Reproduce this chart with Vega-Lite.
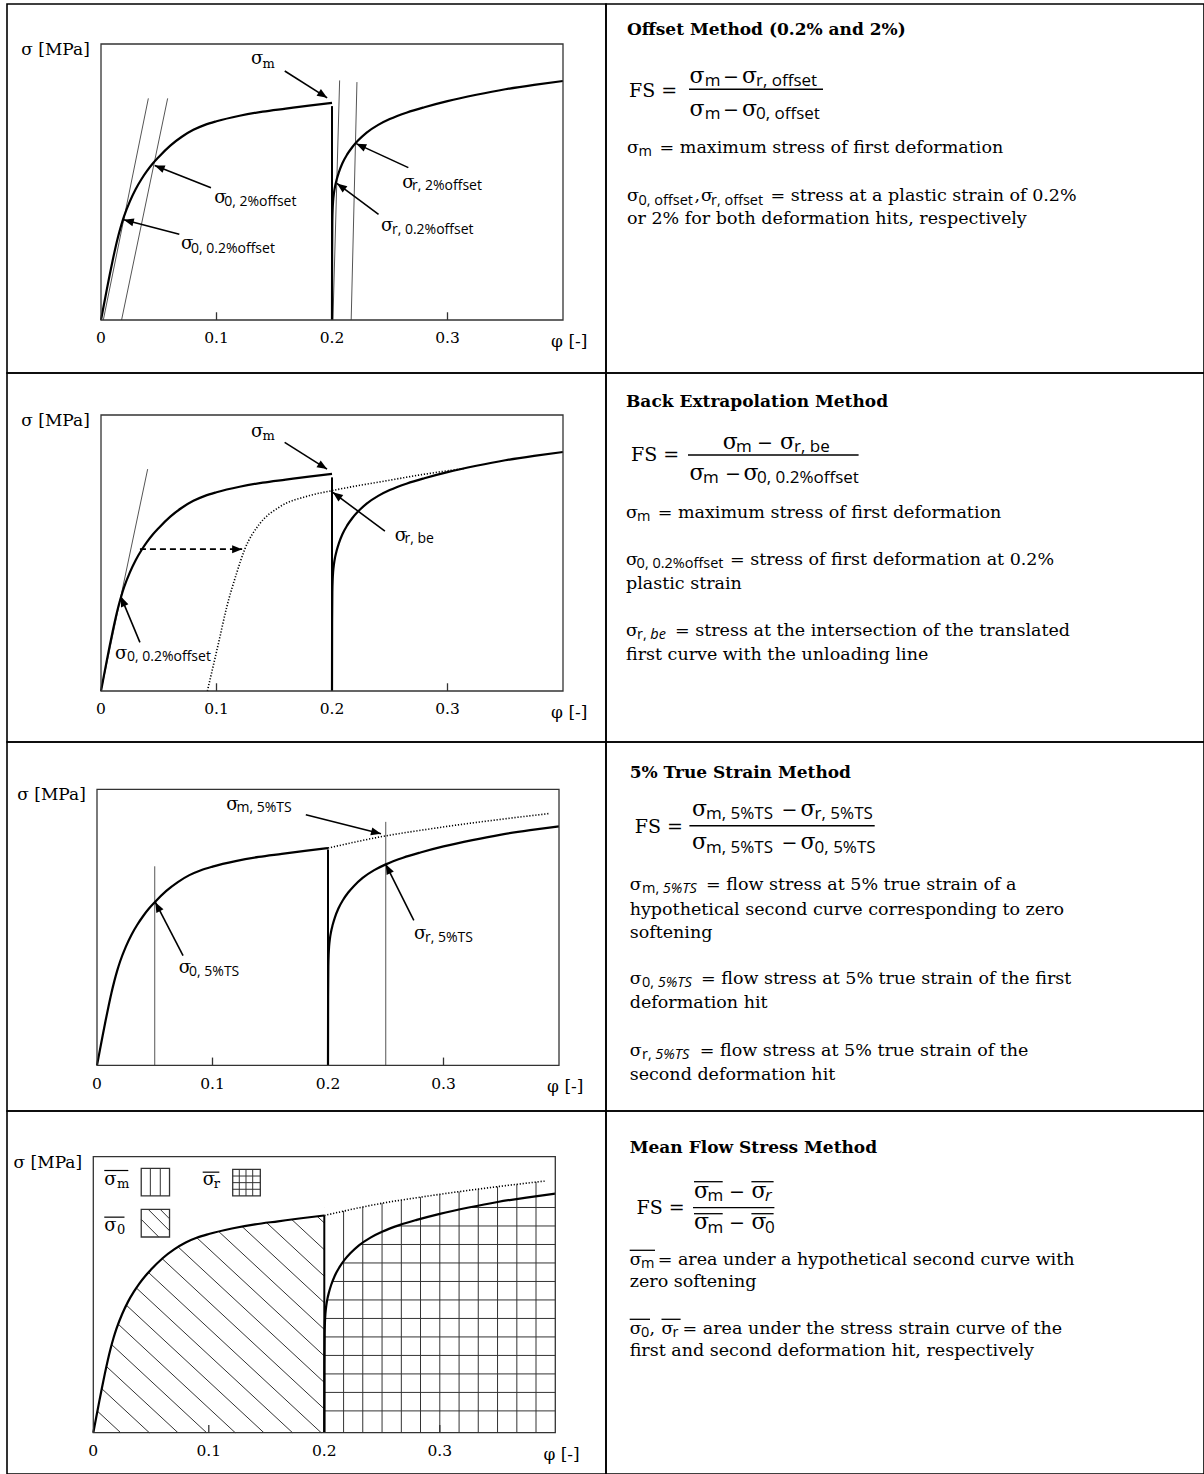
{
"$schema":"https://vega.github.io/schema/vega-lite/v6.json",
"background":"white",
"padding":{"left":6,"top":3,"right":1,"bottom":1},
"columns":2,
"spacing":0,
"bounds":"flush",
"config":{"view":{"stroke":"#000","strokeWidth":1.6},"mark":{"color":"#000"},"axis":{"disable":true}},
"datasets":{
"c1":[{"phi":0,"sig":0},{"phi":0.0025,"sig":5.5},{"phi":0.005,"sig":11},{"phi":0.0075,"sig":16.3},{"phi":0.01,"sig":21.4},{"phi":0.0125,"sig":26.2},{"phi":0.015,"sig":30.5},{"phi":0.0175,"sig":34.3},{"phi":0.02,"sig":37.6},{"phi":0.025,"sig":43},{"phi":0.03,"sig":47.4},{"phi":0.035,"sig":51},{"phi":0.04,"sig":54.1},{"phi":0.045,"sig":56.8},{"phi":0.05,"sig":59.1},{"phi":0.06,"sig":63.2},{"phi":0.07,"sig":66.4},{"phi":0.08,"sig":68.9},{"phi":0.09,"sig":70.7},{"phi":0.1,"sig":72.0},{"phi":0.12,"sig":74.0},{"phi":0.14,"sig":75.5},{"phi":0.16,"sig":76.6},{"phi":0.18,"sig":77.7},{"phi":0.2,"sig":78.7}],
"c2":[{"phi":0.2,"sig":0},{"phi":0.2001,"sig":25},{"phi":0.2003,"sig":36},{"phi":0.2006,"sig":40.5},{"phi":0.201,"sig":43.3},{"phi":0.2017,"sig":46},{"phi":0.2027,"sig":48.5},{"phi":0.204,"sig":50.8},{"phi":0.206,"sig":53.6},{"phi":0.209,"sig":56.8},{"phi":0.213,"sig":59.9},{"phi":0.2175,"sig":62.6},{"phi":0.2225,"sig":65},{"phi":0.23,"sig":67.9},{"phi":0.24,"sig":70.7},{"phi":0.25,"sig":72.8},{"phi":0.265,"sig":75.2},{"phi":0.28,"sig":77.1},{"phi":0.3,"sig":79.3},{"phi":0.325,"sig":81.6},{"phi":0.35,"sig":83.6},{"phi":0.375,"sig":85.2},{"phi":0.4,"sig":86.6}],
"dot2":[{"phi":0.0921,"sig":0},{"phi":0.1022,"sig":18.2},{"phi":0.1088,"sig":30.3},{"phi":0.1172,"sig":42.4},{"phi":0.1245,"sig":51.4},{"phi":0.1372,"sig":60.5},{"phi":0.1539,"sig":66.5},{"phi":0.1806,"sig":70.8},{"phi":0.2,"sig":72.6},{"phi":0.2475,"sig":76.2},{"phi":0.2809,"sig":78.6},{"phi":0.3143,"sig":80.6}],
"ext":[{"phi":0.2,"sig":78.7},{"phi":0.2509,"sig":83.2},{"phi":0.2843,"sig":85.4},{"phi":0.3177,"sig":87.4},{"phi":0.351,"sig":89.2},{"phi":0.3913,"sig":91.2}],
"thin":[{"p":"r1","phi":0.002,"sig":0,"phi2":0.041,"sig2":80.3},{"p":"r1","phi":0.0178,"sig":0,"phi2":0.0577,"sig2":80.3},{"p":"r1","phi":0.2008,"sig":0,"phi2":0.2066,"sig2":86.8},{"p":"r1","phi":0.2166,"sig":0,"phi2":0.2216,"sig2":86.2},{"p":"r2","phi":0,"sig":0,"phi2":0.0404,"sig2":80.4},{"p":"r3","phi":0.05,"sig":0,"phi2":0.05,"sig2":72.1},{"p":"r3","phi":0.25,"sig":0,"phi2":0.25,"sig2":88.2}],
"unl":[{"p":"r1","phi":0.2,"sig":77.5,"phi2":0.2,"sig2":0},{"p":"r2","phi":0.2,"sig":77.4,"phi2":0.2,"sig2":0},{"p":"r3","phi":0.2,"sig":78.2,"phi2":0.2,"sig2":0},{"p":"r4","phi":0.2,"sig":78.7,"phi2":0.2,"sig2":0}],
"arr":[{"p":"r1","id":"a1","phi":0.1591,"sig":90.2,"phi2":0.1958,"sig2":80.5},{"p":"r1","id":"a2","phi":0.0952,"sig":47.9,"phi2":0.0465,"sig2":56},{"p":"r1","id":"a3","phi":0.0678,"sig":31.1,"phi2":0.0197,"sig2":36.3},{"p":"r1","id":"a4","phi":0.2661,"sig":55.2,"phi2":0.221,"sig2":63.9},{"p":"r1","id":"a5","phi":0.2403,"sig":38.3,"phi2":0.2043,"sig2":49.5},{"p":"r2","id":"b1","phi":0.159,"sig":90.1,"phi2":0.1957,"sig2":80.4},{"p":"r2","id":"b2","phi":0.2458,"sig":57.9,"phi2":0.2007,"sig2":72.0},{"p":"r2","id":"b3","phi":0.0337,"sig":17.6,"phi2":0.0172,"sig2":34.2},{"p":"r2","id":"b4","phi":0.0337,"sig":51.4,"phi2":0.1222,"sig2":51.4},{"p":"r3","id":"c1","phi":0.1808,"sig":90.8,"phi2":0.2459,"sig2":83.9},{"p":"r3","id":"c2","phi":0.0745,"sig":39.7,"phi2":0.0505,"sig2":59.1},{"p":"r3","id":"c3","phi":0.2743,"sig":52.5,"phi2":0.25,"sig2":72.8}],
"clab":[{"p":"r1","k":"csig","phi":0.1299,"sig":92.6,"t":"σ"},{"p":"r1","k":"csubs","phi":0.1398,"sig":91.4,"t":"m"},{"p":"r1","k":"csig","phi":0.0981,"sig":42.5,"t":"σ"},{"p":"r1","k":"csub","phi":0.1067,"sig":41.3,"t":"0, 2%offset"},{"p":"r1","k":"csig","phi":0.0693,"sig":25.6,"t":"σ"},{"p":"r1","k":"csub","phi":0.0779,"sig":24.4,"t":"0, 0.2%offset"},{"p":"r1","k":"csig","phi":0.2608,"sig":47.9,"t":"σ"},{"p":"r1","k":"csub","phi":0.2693,"sig":47.0,"t":"r, 2%offset"},{"p":"r1","k":"csig","phi":0.2424,"sig":32.2,"t":"σ"},{"p":"r1","k":"csub","phi":0.2519,"sig":31.1,"t":"r, 0.2%offset"},
{"p":"r2","k":"csig","phi":0.1299,"sig":91.9,"t":"σ"},{"p":"r2","k":"csubs","phi":0.1398,"sig":90.8,"t":"m"},{"p":"r2","k":"csig","phi":0.2544,"sig":54.5,"t":"σ"},{"p":"r2","k":"csub","phi":0.2628,"sig":53.7,"t":"r, be"},{"p":"r2","k":"csig","phi":0.0121,"sig":11.6,"t":"σ"},{"p":"r2","k":"csub","phi":0.0225,"sig":10.8,"t":"0, 0.2%offset"},
{"p":"r3","k":"csig","phi":0.1118,"sig":92.6,"t":"σ"},{"p":"r3","k":"csub","phi":0.1208,"sig":91.6,"t":"m, 5%TS"},{"p":"r3","k":"csig","phi":0.0707,"sig":33.4,"t":"σ"},{"p":"r3","k":"csub","phi":0.0797,"sig":32.2,"t":"0, 5%TS"},{"p":"r3","k":"csig","phi":0.2745,"sig":45.8,"t":"σ"},{"p":"r3","k":"csub","phi":0.284,"sig":44.7,"t":"r, 5%TS"},
{"p":"r4","k":"csig","phi":0.0095,"sig":89.8,"t":"σ"},{"p":"r4","k":"csubs","phi":0.0205,"sig":88.8,"t":"m"},{"p":"r4","k":"csig","phi":0.0947,"sig":89.6,"t":"σ"},{"p":"r4","k":"csubs","phi":0.1042,"sig":88.6,"t":"r"},{"p":"r4","k":"csig","phi":0.0095,"sig":73.1,"t":"σ"},{"p":"r4","k":"csubs","phi":0.0205,"sig":72.1,"t":"0"}],
"ticks":[{"phi":0,"t":"0"},{"phi":0.1,"t":"0.1"},{"phi":0.2,"t":"0.2"},{"phi":0.3,"t":"0.3"}],
"axl":[{"phi":-0.069,"sig":96,"t":"σ [MPa]"},{"phi":0.3897,"sig":-9.8,"t":"φ [-]"}],
"hd":[{"phi":0,"sig":9.2,"phi2":0.0237,"sig2":0},{"phi":0,"sig":18.8,"phi2":0.0485,"sig2":0},{"phi":0,"sig":28.4,"phi2":0.0733,"sig2":0},{"phi":0,"sig":38.1,"phi2":0.0981,"sig2":0},{"phi":0,"sig":47.7,"phi2":0.1229,"sig2":0},{"phi":0,"sig":57.3,"phi2":0.1477,"sig2":0},{"phi":0,"sig":66.9,"phi2":0.1725,"sig2":0},{"phi":0,"sig":76.6,"phi2":0.1973,"sig2":0},{"phi":0,"sig":86.2,"phi2":0.2,"sig2":8.6},{"phi":0,"sig":95.8,"phi2":0.2,"sig2":18.2},{"phi":0.014,"sig":100,"phi2":0.2,"sig2":27.8},{"phi":0.0388,"sig":100,"phi2":0.2,"sig2":37.4},{"phi":0.0636,"sig":100,"phi2":0.2,"sig2":47.1},{"phi":0.0884,"sig":100,"phi2":0.2,"sig2":56.7},{"phi":0.1132,"sig":100,"phi2":0.2,"sig2":66.3},{"phi":0.138,"sig":100,"phi2":0.2,"sig2":76.0}],
"hh":[{"sig":7.9},{"sig":14.6},{"sig":21.3},{"sig":28},{"sig":34.7},{"sig":41.4},{"sig":48.1},{"sig":54.8},{"sig":61.5},{"sig":68.2},{"sig":74.9},{"sig":81.6}],
"hv":[{"phi":0.2167},{"phi":0.2333},{"phi":0.25},{"phi":0.2667},{"phi":0.2833},{"phi":0.3},{"phi":0.3167},{"phi":0.3333},{"phi":0.35},{"phi":0.3667},{"phi":0.3833}],
"lbox":[{"phi":0.0415,"phi2":0.066,"sig":85.8,"sig2":95.8},{"phi":0.1207,"phi2":0.1446,"sig":85.8,"sig2":95.4},{"phi":0.0415,"phi2":0.066,"sig":70.9,"sig2":80.9}],
"lln":[{"phi":0.0494,"sig":85.8,"phi2":0.0494,"sig2":95.8},{"phi":0.058,"sig":85.8,"phi2":0.058,"sig2":95.8},{"phi":0.1264,"sig":85.8,"phi2":0.1264,"sig2":95.4},{"phi":0.1322,"sig":85.8,"phi2":0.1322,"sig2":95.4},{"phi":0.138,"sig":85.8,"phi2":0.138,"sig2":95.4},{"phi":0.1207,"sig":93,"phi2":0.1446,"sig2":93},{"phi":0.1207,"sig":90.6,"phi2":0.1446,"sig2":90.6},{"phi":0.1207,"sig":88.2,"phi2":0.1446,"sig2":88.2},{"phi":0.0415,"sig":77.3,"phi2":0.0567,"sig2":70.9},{"phi":0.0476,"sig":80.9,"phi2":0.066,"sig2":73.2},{"phi":0.058,"sig":80.9,"phi2":0.066,"sig2":77.5}],
"lovl":[{"phi":0.0095,"phi2":0.0303,"sig":95},{"phi":0.0947,"phi2":0.1091,"sig":94.4},{"phi":0.0095,"phi2":0.027,"sig":78.1}],
"txt":[
{"p":"r1","k":"head","x":21,"y":31,"t":"Offset Method (0.2% and 2%)"},
{"p":"r1","k":"fs","x":23,"y":92.7,"t":"FS ="},
{"p":"r1","k":"fsig","x":83.4,"y":78.7,"t":"σ"},
{"p":"r1","k":"fsub","x":98.7,"y":81.5,"t":"m"},
{"p":"r1","k":"fs","x":117,"y":78.7,"t":"−"},
{"p":"r1","k":"fsig","x":136,"y":78.7,"t":"σ"},
{"p":"r1","k":"fsub","x":150,"y":81.5,"t":"r, offset"},
{"p":"r1","k":"fsig","x":83.4,"y":112,"t":"σ"},
{"p":"r1","k":"fsub","x":98.7,"y":114.5,"t":"m"},
{"p":"r1","k":"fs","x":117,"y":112,"t":"−"},
{"p":"r1","k":"fsig","x":136,"y":112,"t":"σ"},
{"p":"r1","k":"fsub","x":150,"y":114.5,"t":"0, offset"},
{"p":"r1","k":"body","x":21,"y":148.7,"t":"σ"},
{"p":"r1","k":"bsub","x":32.5,"y":152,"t":"m"},
{"p":"r1","k":"body","x":53.6,"y":148.7,"t":"= maximum stress of first deformation"},
{"p":"r1","k":"body","x":21,"y":197,"t":"σ"},
{"p":"r1","k":"bsub","x":32.5,"y":200.5,"t":"0, offset"},
{"p":"r1","k":"body","x":88.5,"y":197,"t":","},
{"p":"r1","k":"body","x":95,"y":197,"t":"σ"},
{"p":"r1","k":"bsub","x":105,"y":200.5,"t":"r, offset"},
{"p":"r1","k":"body","x":164.6,"y":197,"t":"= stress at a plastic strain of 0.2%"},
{"p":"r1","k":"body","x":21,"y":220.3,"t":"or 2% for both deformation hits, respectively"},
{"p":"r2","k":"head","x":20,"y":34.3,"t":"Back Extrapolation Method"},
{"p":"r2","k":"fs","x":25,"y":88.3,"t":"FS ="},
{"p":"r2","k":"fsig","x":116.7,"y":75.5,"t":"σ"},
{"p":"r2","k":"fsub","x":130,"y":78.5,"t":"m"},
{"p":"r2","k":"fs","x":151,"y":75.5,"t":"−"},
{"p":"r2","k":"fsig","x":174,"y":75.5,"t":"σ"},
{"p":"r2","k":"fsub","x":188,"y":78.5,"t":"r, be"},
{"p":"r2","k":"fsig","x":83.4,"y":107,"t":"σ"},
{"p":"r2","k":"fsub","x":97,"y":110,"t":"m"},
{"p":"r2","k":"fs","x":119,"y":107,"t":"−"},
{"p":"r2","k":"fsig","x":137.5,"y":107,"t":"σ"},
{"p":"r2","k":"fsub","x":151,"y":110,"t":"0, 0.2%offset"},
{"p":"r2","k":"body","x":20,"y":145,"t":"σ"},
{"p":"r2","k":"bsub","x":31,"y":148.3,"t":"m"},
{"p":"r2","k":"body","x":51.7,"y":145,"t":"= maximum stress of first deformation"},
{"p":"r2","k":"body","x":20,"y":191.7,"t":"σ"},
{"p":"r2","k":"bsub","x":30.6,"y":195,"t":"0, 0.2%offset"},
{"p":"r2","k":"body","x":124,"y":191.7,"t":"= stress of first deformation at 0.2%"},
{"p":"r2","k":"body","x":20,"y":216,"t":"plastic strain"},
{"p":"r2","k":"body","x":20,"y":262.7,"t":"σ"},
{"p":"r2","k":"bsub","x":31,"y":266,"t":"r, "},
{"p":"r2","k":"bsubi","x":44.3,"y":266,"t":"be"},
{"p":"r2","k":"body","x":69,"y":262.7,"t":"= stress at the intersection of the translated"},
{"p":"r2","k":"body","x":20,"y":287,"t":"first curve with the unloading line"},
{"p":"r3","k":"head","x":23.7,"y":36,"t":"5% True Strain Method"},
{"p":"r3","k":"fs","x":28.7,"y":91,"t":"FS ="},
{"p":"r3","k":"fsig","x":86,"y":73.5,"t":"σ"},
{"p":"r3","k":"fsub","x":100,"y":77,"t":"m, 5%TS"},
{"p":"r3","k":"fs","x":175.5,"y":73.5,"t":"−"},
{"p":"r3","k":"fsig","x":194.4,"y":73.5,"t":"σ"},
{"p":"r3","k":"fsub","x":208.6,"y":77,"t":"r, 5%TS"},
{"p":"r3","k":"fsig","x":86,"y":107,"t":"σ"},
{"p":"r3","k":"fsub","x":100,"y":110.5,"t":"m, 5%TS"},
{"p":"r3","k":"fs","x":175.5,"y":107,"t":"−"},
{"p":"r3","k":"fsig","x":194.4,"y":107,"t":"σ"},
{"p":"r3","k":"fsub","x":208.6,"y":110.5,"t":"0, 5%TS"},
{"p":"r3","k":"body","x":23.7,"y":147.7,"t":"σ"},
{"p":"r3","k":"bsub","x":36,"y":151,"t":"m, "},
{"p":"r3","k":"bsubi","x":56.8,"y":151,"t":"5%TS"},
{"p":"r3","k":"body","x":100,"y":147.7,"t":"= flow stress at 5% true strain of a"},
{"p":"r3","k":"body","x":23.7,"y":172.7,"t":"hypothetical second curve corresponding to zero"},
{"p":"r3","k":"body","x":23.7,"y":196,"t":"softening"},
{"p":"r3","k":"body","x":23.7,"y":241.7,"t":"σ"},
{"p":"r3","k":"bsub","x":36,"y":245,"t":"0, "},
{"p":"r3","k":"bsubi","x":51.7,"y":245,"t":"5%TS"},
{"p":"r3","k":"body","x":95,"y":241.7,"t":"= flow stress at 5% true strain of the first"},
{"p":"r3","k":"body","x":23.7,"y":266,"t":"deformation hit"},
{"p":"r3","k":"body","x":23.7,"y":313.7,"t":"σ"},
{"p":"r3","k":"bsub","x":36,"y":317,"t":"r, "},
{"p":"r3","k":"bsubi","x":49.3,"y":317,"t":"5%TS"},
{"p":"r3","k":"body","x":93.8,"y":313.7,"t":"= flow stress at 5% true strain of the"},
{"p":"r3","k":"body","x":23.7,"y":337.7,"t":"second deformation hit"},
{"p":"r4","k":"head","x":23.7,"y":41.7,"t":"Mean Flow Stress Method"},
{"p":"r4","k":"fs","x":30.6,"y":102.7,"t":"FS ="},
{"p":"r4","k":"fsig","x":88,"y":87.3,"t":"σ"},
{"p":"r4","k":"fsub","x":101.5,"y":90,"t":"m"},
{"p":"r4","k":"fs","x":123,"y":87.3,"t":"−"},
{"p":"r4","k":"fsig","x":145.4,"y":87.3,"t":"σ"},
{"p":"r4","k":"fsubi","x":159,"y":90,"t":"r"},
{"p":"r4","k":"fsig","x":88,"y":118.3,"t":"σ"},
{"p":"r4","k":"fsub","x":101.5,"y":121.7,"t":"m"},
{"p":"r4","k":"fs","x":123,"y":118.3,"t":"−"},
{"p":"r4","k":"fsig","x":145.4,"y":118.3,"t":"σ"},
{"p":"r4","k":"fsub","x":159,"y":121.7,"t":"0"},
{"p":"r4","k":"body","x":23.7,"y":154,"t":"σ"},
{"p":"r4","k":"bsub","x":35,"y":157.3,"t":"m"},
{"p":"r4","k":"body","x":51.7,"y":154,"t":"= area under a hypothetical second curve with"},
{"p":"r4","k":"body","x":23.7,"y":176,"t":"zero softening"},
{"p":"r4","k":"body","x":23.7,"y":222.7,"t":"σ"},
{"p":"r4","k":"bsub","x":35,"y":226,"t":"0"},
{"p":"r4","k":"body","x":43.5,"y":222.7,"t":","},
{"p":"r4","k":"body","x":55.5,"y":222.7,"t":"σ"},
{"p":"r4","k":"bsub","x":66.5,"y":226,"t":"r"},
{"p":"r4","k":"body","x":76.5,"y":222.7,"t":"= area under the stress strain curve of the"},
{"p":"r4","k":"body","x":23.7,"y":245,"t":"first and second deformation hit, respectively"}
],
"bars":[{"p":"r1","x":83,"x2":217,"y":85.3},{"p":"r2","x":82,"x2":252.6,"y":82},{"p":"r3","x":83.4,"x2":268.7,"y":83.7},{"p":"r4","x":87,"x2":168.4,"y":96.7},{"p":"r4","x":88,"x2":116.7,"y":70.7},{"p":"r4","x":145.4,"x2":167.6,"y":70.7},{"p":"r4","x":88,"x2":116.7,"y":102.7},{"p":"r4","x":145.4,"x2":167.6,"y":102.7},{"p":"r4","x":23.7,"x2":49,"y":139.3},{"p":"r4","x":23.7,"x2":44,"y":208.3},{"p":"r4","x":55.5,"x2":74.6,"y":208.3}]
},
"concat":[
{"width":599,"height":369,
"layer":[
{"data":{"name":"thin"},"transform":[{"filter":"datum.p=='r1'"}],"mark":{"type":"rule","color":"#555","strokeWidth":1},"encoding":{"x":{"field":"phi","type":"quantitative","scale":{"domain":[-0.08139,0.43723],"nice":false,"zero":false}},"y":{"field":"sig","type":"quantitative","scale":{"domain":[-19.2,114.49],"nice":false,"zero":false}},"x2":{"field":"phi2"},"y2":{"field":"sig2"}}},
{"data":{"name":"c1"},"mark":{"type":"line","interpolate":"monotone","strokeWidth":2.2},"encoding":{"x":{"field":"phi","type":"quantitative"},"y":{"field":"sig","type":"quantitative"}}},
{"data":{"name":"unl"},"transform":[{"filter":"datum.p=='r1'"}],"mark":{"type":"rule","strokeWidth":2},"encoding":{"x":{"field":"phi","type":"quantitative"},"y":{"field":"sig","type":"quantitative"},"x2":{"field":"phi2"},"y2":{"field":"sig2"}}},
{"data":{"name":"c2"},"mark":{"type":"line","interpolate":"monotone","strokeWidth":2.2},"encoding":{"x":{"field":"phi","type":"quantitative"},"y":{"field":"sig","type":"quantitative"}}},
{"data":{"name":"arr"},"transform":[{"filter":"datum.p=='r1'"}],"mark":{"type":"rule","strokeWidth":1.6},"encoding":{"x":{"field":"phi","type":"quantitative"},"y":{"field":"sig","type":"quantitative"},"x2":{"field":"phi2"},"y2":{"field":"sig2"}}},
{"data":{"name":"arr"},"transform":[{"filter":"datum.id=='a1'"}],"mark":{"type":"point","shape":"M0,0L-0.4,1L0.4,1Z","size":400,"filled":true,"opacity":1,"angle":122.8},"encoding":{"x":{"field":"phi2","type":"quantitative"},"y":{"field":"sig2","type":"quantitative"}}},
{"data":{"name":"arr"},"transform":[{"filter":"datum.id=='a2'"}],"mark":{"type":"point","shape":"M0,0L-0.4,1L0.4,1Z","size":400,"filled":true,"opacity":1,"angle":291.7},"encoding":{"x":{"field":"phi2","type":"quantitative"},"y":{"field":"sig2","type":"quantitative"}}},
{"data":{"name":"arr"},"transform":[{"filter":"datum.id=='a3'"}],"mark":{"type":"point","shape":"M0,0L-0.4,1L0.4,1Z","size":400,"filled":true,"opacity":1,"angle":284.5},"encoding":{"x":{"field":"phi2","type":"quantitative"},"y":{"field":"sig2","type":"quantitative"}}},
{"data":{"name":"arr"},"transform":[{"filter":"datum.id=='a4'"}],"mark":{"type":"point","shape":"M0,0L-0.4,1L0.4,1Z","size":400,"filled":true,"opacity":1,"angle":294.8},"encoding":{"x":{"field":"phi2","type":"quantitative"},"y":{"field":"sig2","type":"quantitative"}}},
{"data":{"name":"arr"},"transform":[{"filter":"datum.id=='a5'"}],"mark":{"type":"point","shape":"M0,0L-0.4,1L0.4,1Z","size":400,"filled":true,"opacity":1,"angle":306.6},"encoding":{"x":{"field":"phi2","type":"quantitative"},"y":{"field":"sig2","type":"quantitative"}}},
{"data":{"name":"clab"},"transform":[{"filter":"datum.p=='r1' && datum.k=='csig'"}],"mark":{"type":"text","font":"DejaVu Serif","fontSize":18,"align":"left","baseline":"alphabetic"},"encoding":{"x":{"field":"phi","type":"quantitative"},"y":{"field":"sig","type":"quantitative"},"text":{"field":"t"}}},
{"data":{"name":"clab"},"transform":[{"filter":"datum.p=='r1' && datum.k=='csubs'"}],"mark":{"type":"text","font":"DejaVu Serif","fontSize":13,"align":"left","baseline":"alphabetic"},"encoding":{"x":{"field":"phi","type":"quantitative"},"y":{"field":"sig","type":"quantitative"},"text":{"field":"t"}}},
{"data":{"name":"clab"},"transform":[{"filter":"datum.p=='r1' && datum.k=='csub'"}],"mark":{"type":"text","font":"Open Sans","fontSize":14,"align":"left","baseline":"alphabetic"},"encoding":{"x":{"field":"phi","type":"quantitative"},"y":{"field":"sig","type":"quantitative"},"text":{"field":"t"}}},
{"data":{"values":[{}]},"mark":{"type":"rect","filled":false,"color":"#333","strokeWidth":1.3},"encoding":{"x":{"datum":0},"x2":{"datum":0.4},"y":{"datum":0},"y2":{"datum":100}}},
{"data":{"name":"ticks"},"transform":[{"filter":"datum.phi==0.1 || datum.phi==0.3"}],"mark":{"type":"rule","color":"#333","strokeWidth":1.3},"encoding":{"x":{"field":"phi","type":"quantitative"},"y":{"datum":0},"y2":{"datum":2.8}}},
{"data":{"name":"ticks"},"mark":{"type":"text","font":"DejaVu Serif","fontSize":15.5,"align":"center","baseline":"alphabetic"},"encoding":{"x":{"field":"phi","type":"quantitative"},"y":{"datum":-8.5},"text":{"field":"t"}}},
{"data":{"name":"axl"},"mark":{"type":"text","font":"DejaVu Serif","fontSize":17,"align":"left","baseline":"alphabetic"},"encoding":{"x":{"field":"phi","type":"quantitative"},"y":{"field":"sig","type":"quantitative"},"text":{"field":"t"}}}
]},
{"width":598,"height":369,
"layer":[
{"data":{"name":"bars"},"transform":[{"filter":"datum.p=='r1'"}],"mark":{"type":"rule","strokeWidth":1.4},"encoding":{"x":{"field":"x","type":"quantitative","scale":{"domain":[0,598],"nice":false,"zero":false}},"y":{"field":"y","type":"quantitative","scale":{"domain":[0,369],"nice":false,"zero":false,"reverse":true}},"x2":{"field":"x2"}}},
{"data":{"name":"txt"},"transform":[{"filter":"datum.p=='r1' && datum.k=='head'"}],"mark":{"type":"text","font":"DejaVu Serif","fontSize":17,"fontWeight":"bold","align":"left","baseline":"alphabetic"},"encoding":{"x":{"field":"x","type":"quantitative"},"y":{"field":"y","type":"quantitative"},"text":{"field":"t"}}},
{"data":{"name":"txt"},"transform":[{"filter":"datum.p=='r1' && datum.k=='body'"}],"mark":{"type":"text","font":"DejaVu Serif","fontSize":17.5,"align":"left","baseline":"alphabetic"},"encoding":{"x":{"field":"x","type":"quantitative"},"y":{"field":"y","type":"quantitative"},"text":{"field":"t"}}},
{"data":{"name":"txt"},"transform":[{"filter":"datum.p=='r1' && datum.k=='bsub'"}],"mark":{"type":"text","font":"Open Sans","fontSize":14.5,"align":"left","baseline":"alphabetic"},"encoding":{"x":{"field":"x","type":"quantitative"},"y":{"field":"y","type":"quantitative"},"text":{"field":"t"}}},
{"data":{"name":"txt"},"transform":[{"filter":"datum.p=='r1' && datum.k=='fs'"}],"mark":{"type":"text","font":"DejaVu Serif","fontSize":19,"align":"left","baseline":"alphabetic"},"encoding":{"x":{"field":"x","type":"quantitative"},"y":{"field":"y","type":"quantitative"},"text":{"field":"t"}}},
{"data":{"name":"txt"},"transform":[{"filter":"datum.p=='r1' && datum.k=='fsig'"}],"mark":{"type":"text","font":"DejaVu Serif","fontSize":22,"align":"left","baseline":"alphabetic"},"encoding":{"x":{"field":"x","type":"quantitative"},"y":{"field":"y","type":"quantitative"},"text":{"field":"t"}}},
{"data":{"name":"txt"},"transform":[{"filter":"datum.p=='r1' && datum.k=='fsub'"}],"mark":{"type":"text","font":"Open Sans","fontSize":17,"align":"left","baseline":"alphabetic"},"encoding":{"x":{"field":"x","type":"quantitative"},"y":{"field":"y","type":"quantitative"},"text":{"field":"t"}}}
]},
{"width":599,"height":369,
"layer":[
{"data":{"name":"thin"},"transform":[{"filter":"datum.p=='r2'"}],"mark":{"type":"rule","color":"#555","strokeWidth":1},"encoding":{"x":{"field":"phi","type":"quantitative","scale":{"domain":[-0.08139,0.43723],"nice":false,"zero":false}},"y":{"field":"sig","type":"quantitative","scale":{"domain":[-18.48,115.22],"nice":false,"zero":false}},"x2":{"field":"phi2"},"y2":{"field":"sig2"}}},
{"data":{"name":"dot2"},"mark":{"type":"line","interpolate":"monotone","strokeWidth":1.6,"strokeDash":[1.2,1.8]},"encoding":{"x":{"field":"phi","type":"quantitative"},"y":{"field":"sig","type":"quantitative"}}},
{"data":{"name":"c1"},"mark":{"type":"line","interpolate":"monotone","strokeWidth":2.2},"encoding":{"x":{"field":"phi","type":"quantitative"},"y":{"field":"sig","type":"quantitative"}}},
{"data":{"name":"unl"},"transform":[{"filter":"datum.p=='r2'"}],"mark":{"type":"rule","strokeWidth":2},"encoding":{"x":{"field":"phi","type":"quantitative"},"y":{"field":"sig","type":"quantitative"},"x2":{"field":"phi2"},"y2":{"field":"sig2"}}},
{"data":{"name":"c2"},"mark":{"type":"line","interpolate":"monotone","strokeWidth":2.2},"encoding":{"x":{"field":"phi","type":"quantitative"},"y":{"field":"sig","type":"quantitative"}}},
{"data":{"name":"arr"},"transform":[{"filter":"datum.p=='r2' && datum.id!='b4'"}],"mark":{"type":"rule","strokeWidth":1.6},"encoding":{"x":{"field":"phi","type":"quantitative"},"y":{"field":"sig","type":"quantitative"},"x2":{"field":"phi2"},"y2":{"field":"sig2"}}},
{"data":{"name":"arr"},"transform":[{"filter":"datum.id=='b4'"}],"mark":{"type":"rule","strokeWidth":1.6,"strokeDash":[6,4]},"encoding":{"x":{"field":"phi","type":"quantitative"},"y":{"field":"sig","type":"quantitative"},"x2":{"field":"phi2"},"y2":{"field":"sig2"}}},
{"data":{"name":"arr"},"transform":[{"filter":"datum.id=='b1'"}],"mark":{"type":"point","shape":"M0,0L-0.4,1L0.4,1Z","size":400,"filled":true,"opacity":1,"angle":122.3},"encoding":{"x":{"field":"phi2","type":"quantitative"},"y":{"field":"sig2","type":"quantitative"}}},
{"data":{"name":"arr"},"transform":[{"filter":"datum.id=='b2'"}],"mark":{"type":"point","shape":"M0,0L-0.4,1L0.4,1Z","size":400,"filled":true,"opacity":1,"angle":306.7},"encoding":{"x":{"field":"phi2","type":"quantitative"},"y":{"field":"sig2","type":"quantitative"}}},
{"data":{"name":"arr"},"transform":[{"filter":"datum.id=='b3'"}],"mark":{"type":"point","shape":"M0,0L-0.4,1L0.4,1Z","size":400,"filled":true,"opacity":1,"angle":337.5},"encoding":{"x":{"field":"phi2","type":"quantitative"},"y":{"field":"sig2","type":"quantitative"}}},
{"data":{"name":"arr"},"transform":[{"filter":"datum.id=='b4'"}],"mark":{"type":"point","shape":"M0,0L-0.4,1L0.4,1Z","size":400,"filled":true,"opacity":1,"angle":90},"encoding":{"x":{"field":"phi2","type":"quantitative"},"y":{"field":"sig2","type":"quantitative"}}},
{"data":{"name":"clab"},"transform":[{"filter":"datum.p=='r2' && datum.k=='csig'"}],"mark":{"type":"text","font":"DejaVu Serif","fontSize":18,"align":"left","baseline":"alphabetic"},"encoding":{"x":{"field":"phi","type":"quantitative"},"y":{"field":"sig","type":"quantitative"},"text":{"field":"t"}}},
{"data":{"name":"clab"},"transform":[{"filter":"datum.p=='r2' && datum.k=='csubs'"}],"mark":{"type":"text","font":"DejaVu Serif","fontSize":13,"align":"left","baseline":"alphabetic"},"encoding":{"x":{"field":"phi","type":"quantitative"},"y":{"field":"sig","type":"quantitative"},"text":{"field":"t"}}},
{"data":{"name":"clab"},"transform":[{"filter":"datum.p=='r2' && datum.k=='csub'"}],"mark":{"type":"text","font":"Open Sans","fontSize":14,"align":"left","baseline":"alphabetic"},"encoding":{"x":{"field":"phi","type":"quantitative"},"y":{"field":"sig","type":"quantitative"},"text":{"field":"t"}}},
{"data":{"values":[{}]},"mark":{"type":"rect","filled":false,"color":"#333","strokeWidth":1.3},"encoding":{"x":{"datum":0},"x2":{"datum":0.4},"y":{"datum":0},"y2":{"datum":100}}},
{"data":{"name":"ticks"},"transform":[{"filter":"datum.phi==0.1 || datum.phi==0.3"}],"mark":{"type":"rule","color":"#333","strokeWidth":1.3},"encoding":{"x":{"field":"phi","type":"quantitative"},"y":{"datum":0},"y2":{"datum":2.8}}},
{"data":{"name":"ticks"},"mark":{"type":"text","font":"DejaVu Serif","fontSize":15.5,"align":"center","baseline":"alphabetic"},"encoding":{"x":{"field":"phi","type":"quantitative"},"y":{"datum":-8.5},"text":{"field":"t"}}},
{"data":{"name":"axl"},"mark":{"type":"text","font":"DejaVu Serif","fontSize":17,"align":"left","baseline":"alphabetic"},"encoding":{"x":{"field":"phi","type":"quantitative"},"y":{"field":"sig","type":"quantitative"},"text":{"field":"t"}}}
]},
{"width":598,"height":369,
"layer":[
{"data":{"name":"bars"},"transform":[{"filter":"datum.p=='r2'"}],"mark":{"type":"rule","strokeWidth":1.4},"encoding":{"x":{"field":"x","type":"quantitative","scale":{"domain":[0,598],"nice":false,"zero":false}},"y":{"field":"y","type":"quantitative","scale":{"domain":[0,369],"nice":false,"zero":false,"reverse":true}},"x2":{"field":"x2"}}},
{"data":{"name":"txt"},"transform":[{"filter":"datum.p=='r2' && datum.k=='head'"}],"mark":{"type":"text","font":"DejaVu Serif","fontSize":17,"fontWeight":"bold","align":"left","baseline":"alphabetic"},"encoding":{"x":{"field":"x","type":"quantitative"},"y":{"field":"y","type":"quantitative"},"text":{"field":"t"}}},
{"data":{"name":"txt"},"transform":[{"filter":"datum.p=='r2' && datum.k=='body'"}],"mark":{"type":"text","font":"DejaVu Serif","fontSize":17.5,"align":"left","baseline":"alphabetic"},"encoding":{"x":{"field":"x","type":"quantitative"},"y":{"field":"y","type":"quantitative"},"text":{"field":"t"}}},
{"data":{"name":"txt"},"transform":[{"filter":"datum.p=='r2' && datum.k=='bsub'"}],"mark":{"type":"text","font":"Open Sans","fontSize":14.5,"align":"left","baseline":"alphabetic"},"encoding":{"x":{"field":"x","type":"quantitative"},"y":{"field":"y","type":"quantitative"},"text":{"field":"t"}}},
{"data":{"name":"txt"},"transform":[{"filter":"datum.p=='r2' && datum.k=='bsubi'"}],"mark":{"type":"text","font":"Open Sans","fontSize":14.5,"fontStyle":"italic","align":"left","baseline":"alphabetic"},"encoding":{"x":{"field":"x","type":"quantitative"},"y":{"field":"y","type":"quantitative"},"text":{"field":"t"}}},
{"data":{"name":"txt"},"transform":[{"filter":"datum.p=='r2' && datum.k=='fs'"}],"mark":{"type":"text","font":"DejaVu Serif","fontSize":19,"align":"left","baseline":"alphabetic"},"encoding":{"x":{"field":"x","type":"quantitative"},"y":{"field":"y","type":"quantitative"},"text":{"field":"t"}}},
{"data":{"name":"txt"},"transform":[{"filter":"datum.p=='r2' && datum.k=='fsig'"}],"mark":{"type":"text","font":"DejaVu Serif","fontSize":22,"align":"left","baseline":"alphabetic"},"encoding":{"x":{"field":"x","type":"quantitative"},"y":{"field":"y","type":"quantitative"},"text":{"field":"t"}}},
{"data":{"name":"txt"},"transform":[{"filter":"datum.p=='r2' && datum.k=='fsub'"}],"mark":{"type":"text","font":"Open Sans","fontSize":17,"align":"left","baseline":"alphabetic"},"encoding":{"x":{"field":"x","type":"quantitative"},"y":{"field":"y","type":"quantitative"},"text":{"field":"t"}}}
]},
{"width":599,"height":369,
"layer":[
{"data":{"name":"thin"},"transform":[{"filter":"datum.p=='r3'"}],"mark":{"type":"rule","color":"#555","strokeWidth":1},"encoding":{"x":{"field":"phi","type":"quantitative","scale":{"domain":[-0.07792,0.44069],"nice":false,"zero":false}},"y":{"field":"sig","type":"quantitative","scale":{"domain":[-16.56,117.14],"nice":false,"zero":false}},"x2":{"field":"phi2"},"y2":{"field":"sig2"}}},
{"data":{"name":"ext"},"mark":{"type":"line","interpolate":"monotone","strokeWidth":1.6,"strokeDash":[1.2,1.8]},"encoding":{"x":{"field":"phi","type":"quantitative"},"y":{"field":"sig","type":"quantitative"}}},
{"data":{"name":"c1"},"mark":{"type":"line","interpolate":"monotone","strokeWidth":2.2},"encoding":{"x":{"field":"phi","type":"quantitative"},"y":{"field":"sig","type":"quantitative"}}},
{"data":{"name":"unl"},"transform":[{"filter":"datum.p=='r3'"}],"mark":{"type":"rule","strokeWidth":2},"encoding":{"x":{"field":"phi","type":"quantitative"},"y":{"field":"sig","type":"quantitative"},"x2":{"field":"phi2"},"y2":{"field":"sig2"}}},
{"data":{"name":"c2"},"mark":{"type":"line","interpolate":"monotone","strokeWidth":2.2},"encoding":{"x":{"field":"phi","type":"quantitative"},"y":{"field":"sig","type":"quantitative"}}},
{"data":{"name":"arr"},"transform":[{"filter":"datum.p=='r3'"}],"mark":{"type":"rule","strokeWidth":1.6},"encoding":{"x":{"field":"phi","type":"quantitative"},"y":{"field":"sig","type":"quantitative"},"x2":{"field":"phi2"},"y2":{"field":"sig2"}}},
{"data":{"name":"arr"},"transform":[{"filter":"datum.id=='c1'"}],"mark":{"type":"point","shape":"M0,0L-0.4,1L0.4,1Z","size":400,"filled":true,"opacity":1,"angle":104.2},"encoding":{"x":{"field":"phi2","type":"quantitative"},"y":{"field":"sig2","type":"quantitative"}}},
{"data":{"name":"arr"},"transform":[{"filter":"datum.id=='c2'"}],"mark":{"type":"point","shape":"M0,0L-0.4,1L0.4,1Z","size":400,"filled":true,"opacity":1,"angle":332.6},"encoding":{"x":{"field":"phi2","type":"quantitative"},"y":{"field":"sig2","type":"quantitative"}}},
{"data":{"name":"arr"},"transform":[{"filter":"datum.id=='c3'"}],"mark":{"type":"point","shape":"M0,0L-0.4,1L0.4,1Z","size":400,"filled":true,"opacity":1,"angle":333.4},"encoding":{"x":{"field":"phi2","type":"quantitative"},"y":{"field":"sig2","type":"quantitative"}}},
{"data":{"name":"clab"},"transform":[{"filter":"datum.p=='r3' && datum.k=='csig'"}],"mark":{"type":"text","font":"DejaVu Serif","fontSize":18,"align":"left","baseline":"alphabetic"},"encoding":{"x":{"field":"phi","type":"quantitative"},"y":{"field":"sig","type":"quantitative"},"text":{"field":"t"}}},
{"data":{"name":"clab"},"transform":[{"filter":"datum.p=='r3' && datum.k=='csub'"}],"mark":{"type":"text","font":"Open Sans","fontSize":14,"align":"left","baseline":"alphabetic"},"encoding":{"x":{"field":"phi","type":"quantitative"},"y":{"field":"sig","type":"quantitative"},"text":{"field":"t"}}},
{"data":{"values":[{}]},"mark":{"type":"rect","filled":false,"color":"#333","strokeWidth":1.3},"encoding":{"x":{"datum":0},"x2":{"datum":0.4},"y":{"datum":0},"y2":{"datum":100}}},
{"data":{"name":"ticks"},"transform":[{"filter":"datum.phi==0.1 || datum.phi==0.3"}],"mark":{"type":"rule","color":"#333","strokeWidth":1.3},"encoding":{"x":{"field":"phi","type":"quantitative"},"y":{"datum":0},"y2":{"datum":2.8}}},
{"data":{"name":"ticks"},"mark":{"type":"text","font":"DejaVu Serif","fontSize":15.5,"align":"center","baseline":"alphabetic"},"encoding":{"x":{"field":"phi","type":"quantitative"},"y":{"datum":-8.5},"text":{"field":"t"}}},
{"data":{"name":"axl"},"mark":{"type":"text","font":"DejaVu Serif","fontSize":17,"align":"left","baseline":"alphabetic"},"encoding":{"x":{"field":"phi","type":"quantitative"},"y":{"field":"sig","type":"quantitative"},"text":{"field":"t"}}}
]},
{"width":598,"height":369,
"layer":[
{"data":{"name":"bars"},"transform":[{"filter":"datum.p=='r3'"}],"mark":{"type":"rule","strokeWidth":1.4},"encoding":{"x":{"field":"x","type":"quantitative","scale":{"domain":[0,598],"nice":false,"zero":false}},"y":{"field":"y","type":"quantitative","scale":{"domain":[0,369],"nice":false,"zero":false,"reverse":true}},"x2":{"field":"x2"}}},
{"data":{"name":"txt"},"transform":[{"filter":"datum.p=='r3' && datum.k=='head'"}],"mark":{"type":"text","font":"DejaVu Serif","fontSize":17,"fontWeight":"bold","align":"left","baseline":"alphabetic"},"encoding":{"x":{"field":"x","type":"quantitative"},"y":{"field":"y","type":"quantitative"},"text":{"field":"t"}}},
{"data":{"name":"txt"},"transform":[{"filter":"datum.p=='r3' && datum.k=='body'"}],"mark":{"type":"text","font":"DejaVu Serif","fontSize":17.5,"align":"left","baseline":"alphabetic"},"encoding":{"x":{"field":"x","type":"quantitative"},"y":{"field":"y","type":"quantitative"},"text":{"field":"t"}}},
{"data":{"name":"txt"},"transform":[{"filter":"datum.p=='r3' && datum.k=='bsub'"}],"mark":{"type":"text","font":"Open Sans","fontSize":14.5,"align":"left","baseline":"alphabetic"},"encoding":{"x":{"field":"x","type":"quantitative"},"y":{"field":"y","type":"quantitative"},"text":{"field":"t"}}},
{"data":{"name":"txt"},"transform":[{"filter":"datum.p=='r3' && datum.k=='bsubi'"}],"mark":{"type":"text","font":"Open Sans","fontSize":14.5,"fontStyle":"italic","align":"left","baseline":"alphabetic"},"encoding":{"x":{"field":"x","type":"quantitative"},"y":{"field":"y","type":"quantitative"},"text":{"field":"t"}}},
{"data":{"name":"txt"},"transform":[{"filter":"datum.p=='r3' && datum.k=='fs'"}],"mark":{"type":"text","font":"DejaVu Serif","fontSize":19,"align":"left","baseline":"alphabetic"},"encoding":{"x":{"field":"x","type":"quantitative"},"y":{"field":"y","type":"quantitative"},"text":{"field":"t"}}},
{"data":{"name":"txt"},"transform":[{"filter":"datum.p=='r3' && datum.k=='fsig'"}],"mark":{"type":"text","font":"DejaVu Serif","fontSize":22,"align":"left","baseline":"alphabetic"},"encoding":{"x":{"field":"x","type":"quantitative"},"y":{"field":"y","type":"quantitative"},"text":{"field":"t"}}},
{"data":{"name":"txt"},"transform":[{"filter":"datum.p=='r3' && datum.k=='fsub'"}],"mark":{"type":"text","font":"Open Sans","fontSize":17,"align":"left","baseline":"alphabetic"},"encoding":{"x":{"field":"x","type":"quantitative"},"y":{"field":"y","type":"quantitative"},"text":{"field":"t"}}}
]},
{"width":599,"height":363,
"layer":[
{"data":{"name":"hd"},"mark":{"type":"rule","color":"#333","strokeWidth":1},"encoding":{"x":{"field":"phi","type":"quantitative","scale":{"domain":[-0.07472,0.4439],"nice":false,"zero":false}},"y":{"field":"sig","type":"quantitative","scale":{"domain":[-14.96,116.56],"nice":false,"zero":false}},"x2":{"field":"phi2"},"y2":{"field":"sig2"}}},
{"data":{"name":"hh"},"mark":{"type":"rule","color":"#333","strokeWidth":1},"encoding":{"x":{"datum":0.2},"x2":{"datum":0.4},"y":{"field":"sig","type":"quantitative"}}},
{"data":{"name":"c1"},"mark":{"type":"area","interpolate":"monotone","color":"#fff","opacity":1},"encoding":{"x":{"field":"phi","type":"quantitative"},"y":{"field":"sig","type":"quantitative"},"y2":{"datum":100}}},
{"data":{"name":"c2"},"mark":{"type":"area","interpolate":"monotone","color":"#fff","opacity":1},"encoding":{"x":{"field":"phi","type":"quantitative"},"y":{"field":"sig","type":"quantitative"},"y2":{"datum":100}}},
{"data":{"name":"hv"},"mark":{"type":"rule","color":"#333","strokeWidth":1},"encoding":{"x":{"field":"phi","type":"quantitative"},"y":{"datum":0},"y2":{"datum":100}}},
{"data":{"name":"ext"},"mark":{"type":"area","interpolate":"monotone","color":"#fff","opacity":1},"encoding":{"x":{"field":"phi","type":"quantitative"},"y":{"field":"sig","type":"quantitative"},"y2":{"datum":100}}},
{"data":{"name":"ext"},"mark":{"type":"line","interpolate":"monotone","strokeWidth":1.6,"strokeDash":[1.2,1.8]},"encoding":{"x":{"field":"phi","type":"quantitative"},"y":{"field":"sig","type":"quantitative"}}},
{"data":{"name":"c1"},"mark":{"type":"line","interpolate":"monotone","strokeWidth":2.2},"encoding":{"x":{"field":"phi","type":"quantitative"},"y":{"field":"sig","type":"quantitative"}}},
{"data":{"name":"unl"},"transform":[{"filter":"datum.p=='r4'"}],"mark":{"type":"rule","strokeWidth":2},"encoding":{"x":{"field":"phi","type":"quantitative"},"y":{"field":"sig","type":"quantitative"},"x2":{"field":"phi2"},"y2":{"field":"sig2"}}},
{"data":{"name":"c2"},"mark":{"type":"line","interpolate":"monotone","strokeWidth":2.2},"encoding":{"x":{"field":"phi","type":"quantitative"},"y":{"field":"sig","type":"quantitative"}}},
{"data":{"name":"lbox"},"mark":{"type":"rect","filled":false,"color":"#333","strokeWidth":1.3},"encoding":{"x":{"field":"phi","type":"quantitative"},"y":{"field":"sig","type":"quantitative"},"x2":{"field":"phi2"},"y2":{"field":"sig2"}}},
{"data":{"name":"lln"},"mark":{"type":"rule","color":"#333","strokeWidth":1},"encoding":{"x":{"field":"phi","type":"quantitative"},"y":{"field":"sig","type":"quantitative"},"x2":{"field":"phi2"},"y2":{"field":"sig2"}}},
{"data":{"name":"lovl"},"mark":{"type":"rule","strokeWidth":1.2},"encoding":{"x":{"field":"phi","type":"quantitative"},"y":{"field":"sig","type":"quantitative"},"x2":{"field":"phi2"}}},
{"data":{"name":"clab"},"transform":[{"filter":"datum.p=='r4' && datum.k=='csig'"}],"mark":{"type":"text","font":"DejaVu Serif","fontSize":18,"align":"left","baseline":"alphabetic"},"encoding":{"x":{"field":"phi","type":"quantitative"},"y":{"field":"sig","type":"quantitative"},"text":{"field":"t"}}},
{"data":{"name":"clab"},"transform":[{"filter":"datum.p=='r4' && datum.k=='csubs'"}],"mark":{"type":"text","font":"DejaVu Serif","fontSize":13,"align":"left","baseline":"alphabetic"},"encoding":{"x":{"field":"phi","type":"quantitative"},"y":{"field":"sig","type":"quantitative"},"text":{"field":"t"}}},
{"data":{"values":[{}]},"mark":{"type":"rect","filled":false,"color":"#333","strokeWidth":1.3},"encoding":{"x":{"datum":0},"x2":{"datum":0.4},"y":{"datum":0},"y2":{"datum":100}}},
{"data":{"name":"ticks"},"transform":[{"filter":"datum.phi==0.1 || datum.phi==0.3"}],"mark":{"type":"rule","color":"#333","strokeWidth":1.3},"encoding":{"x":{"field":"phi","type":"quantitative"},"y":{"datum":0},"y2":{"datum":2.8}}},
{"data":{"name":"ticks"},"mark":{"type":"text","font":"DejaVu Serif","fontSize":15.5,"align":"center","baseline":"alphabetic"},"encoding":{"x":{"field":"phi","type":"quantitative"},"y":{"datum":-8.5},"text":{"field":"t"}}},
{"data":{"name":"axl"},"mark":{"type":"text","font":"DejaVu Serif","fontSize":17,"align":"left","baseline":"alphabetic"},"encoding":{"x":{"field":"phi","type":"quantitative"},"y":{"field":"sig","type":"quantitative"},"text":{"field":"t"}}}
]},
{"width":598,"height":363,
"layer":[
{"data":{"name":"bars"},"transform":[{"filter":"datum.p=='r4'"}],"mark":{"type":"rule","strokeWidth":1.3},"encoding":{"x":{"field":"x","type":"quantitative","scale":{"domain":[0,598],"nice":false,"zero":false}},"y":{"field":"y","type":"quantitative","scale":{"domain":[0,363],"nice":false,"zero":false,"reverse":true}},"x2":{"field":"x2"}}},
{"data":{"name":"txt"},"transform":[{"filter":"datum.p=='r4' && datum.k=='head'"}],"mark":{"type":"text","font":"DejaVu Serif","fontSize":17,"fontWeight":"bold","align":"left","baseline":"alphabetic"},"encoding":{"x":{"field":"x","type":"quantitative"},"y":{"field":"y","type":"quantitative"},"text":{"field":"t"}}},
{"data":{"name":"txt"},"transform":[{"filter":"datum.p=='r4' && datum.k=='body'"}],"mark":{"type":"text","font":"DejaVu Serif","fontSize":17.5,"align":"left","baseline":"alphabetic"},"encoding":{"x":{"field":"x","type":"quantitative"},"y":{"field":"y","type":"quantitative"},"text":{"field":"t"}}},
{"data":{"name":"txt"},"transform":[{"filter":"datum.p=='r4' && datum.k=='bsub'"}],"mark":{"type":"text","font":"Open Sans","fontSize":14.5,"align":"left","baseline":"alphabetic"},"encoding":{"x":{"field":"x","type":"quantitative"},"y":{"field":"y","type":"quantitative"},"text":{"field":"t"}}},
{"data":{"name":"txt"},"transform":[{"filter":"datum.p=='r4' && datum.k=='fs'"}],"mark":{"type":"text","font":"DejaVu Serif","fontSize":19,"align":"left","baseline":"alphabetic"},"encoding":{"x":{"field":"x","type":"quantitative"},"y":{"field":"y","type":"quantitative"},"text":{"field":"t"}}},
{"data":{"name":"txt"},"transform":[{"filter":"datum.p=='r4' && datum.k=='fsig'"}],"mark":{"type":"text","font":"DejaVu Serif","fontSize":22,"align":"left","baseline":"alphabetic"},"encoding":{"x":{"field":"x","type":"quantitative"},"y":{"field":"y","type":"quantitative"},"text":{"field":"t"}}},
{"data":{"name":"txt"},"transform":[{"filter":"datum.p=='r4' && datum.k=='fsub'"}],"mark":{"type":"text","font":"Open Sans","fontSize":17,"align":"left","baseline":"alphabetic"},"encoding":{"x":{"field":"x","type":"quantitative"},"y":{"field":"y","type":"quantitative"},"text":{"field":"t"}}},
{"data":{"name":"txt"},"transform":[{"filter":"datum.p=='r4' && datum.k=='fsubi'"}],"mark":{"type":"text","font":"Open Sans","fontSize":17,"fontStyle":"italic","align":"left","baseline":"alphabetic"},"encoding":{"x":{"field":"x","type":"quantitative"},"y":{"field":"y","type":"quantitative"},"text":{"field":"t"}}}
]}
]
}
